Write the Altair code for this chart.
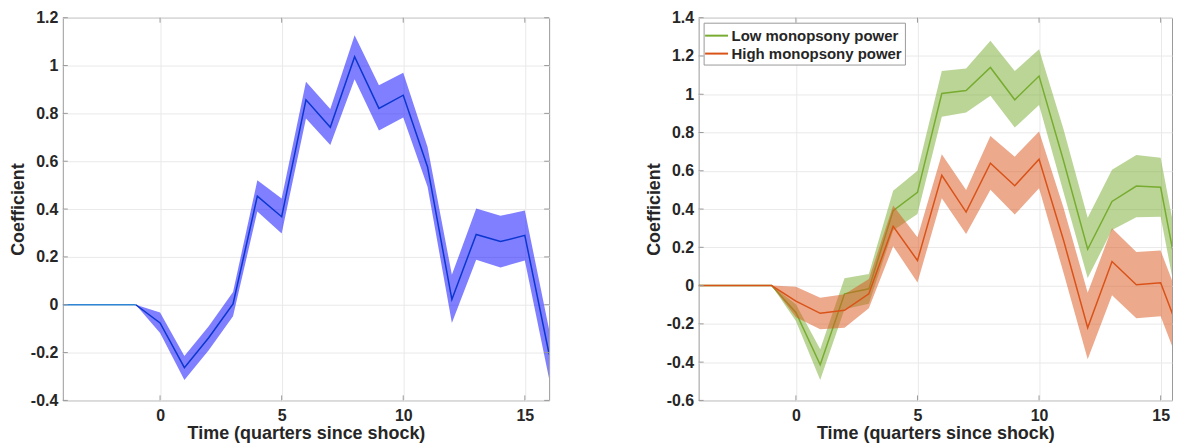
import altair as alt
import pandas as pd

# ---------------- data ----------------
quarters = list(range(-4, 17))

left_coef = [0, 0, 0, 0, -0.076, -0.263, -0.138, 0.003, 0.454, 0.368, 0.857,
             0.742, 1.037, 0.821, 0.876, 0.576, 0.022, 0.294, 0.264, 0.290, -0.207]
left_hi = [0, 0, 0, 0, -0.032, -0.214, -0.090, 0.053, 0.520, 0.444, 0.932,
           0.818, 1.127, 0.918, 0.970, 0.659, 0.125, 0.402, 0.372, 0.394, -0.105]
left_lo = [0, 0, 0, 0, -0.118, -0.315, -0.190, -0.048, 0.390, 0.298, 0.779,
           0.668, 0.943, 0.728, 0.783, 0.493, -0.076, 0.188, 0.156, 0.185, -0.310]

low_coef = [0, 0, 0, 0, -0.140, -0.414, -0.043, -0.017, 0.392, 0.487, 1.004,
            1.020, 1.140, 0.971, 1.095, 0.655, 0.190, 0.440, 0.520, 0.514, -0.150]
low_hi = [0, 0, 0, 0, -0.098, -0.333, 0.038, 0.061, 0.496, 0.600, 1.121,
          1.134, 1.279, 1.121, 1.235, 0.820, 0.355, 0.605, 0.683, 0.668, 0.000]
low_lo = [0, 0, 0, 0, -0.185, -0.494, -0.124, -0.095, 0.288, 0.374, 0.883,
          0.905, 0.992, 0.826, 0.944, 0.490, 0.040, 0.290, 0.357, 0.360, -0.300]

high_coef = [0, 0, 0, 0, -0.081, -0.145, -0.129, -0.043, 0.310, 0.131, 0.576,
             0.384, 0.640, 0.522, 0.660, 0.240, -0.220, 0.126, 0.004, 0.015, -0.320]
high_hi = [0, 0, 0, 0, -0.006, -0.063, -0.045, 0.035, 0.419, 0.253, 0.686,
           0.500, 0.782, 0.674, 0.805, 0.410, -0.037, 0.300, 0.176, 0.183, -0.150]
high_lo = [0, 0, 0, 0, -0.165, -0.228, -0.220, -0.119, 0.206, 0.016, 0.457,
           0.270, 0.501, 0.371, 0.509, 0.070, -0.385, -0.050, -0.171, -0.160, -0.490]

series_names = ["Low monopsony power", "High monopsony power"]
x_ticks = [0, 5, 10, 15]
y_ticks_left = [-0.4, -0.2, 0, 0.2, 0.4, 0.6, 0.8, 1, 1.2]
y_ticks_right = [-0.6, -0.4, -0.2, 0, 0.2, 0.4, 0.6, 0.8, 1, 1.2, 1.4]

# ---------------- styling ----------------
FONT = "Liberation Sans"
TXT = "#262626"
BOX = "#9a9a9a"
GRID = "#e9e9e9"
W1, W2, H = 488, 475, 384
TICK = 5

left_df = pd.DataFrame({"x": quarters, "coef": left_coef, "hi": left_hi, "lo": left_lo})
low_df = pd.DataFrame({"x": quarters, "coef": low_coef, "hi": low_hi, "lo": low_lo,
                       "series": series_names[0]})
high_df = pd.DataFrame({"x": quarters, "coef": high_coef, "hi": high_hi, "lo": high_lo,
                        "series": series_names[1]})
xt_df = pd.DataFrame({"x": x_ticks})
ytl_df = pd.DataFrame({"y": y_ticks_left})
ytr_df = pd.DataFrame({"y": y_ticks_right})

label_expr = "'' + round(datum.value*10)/10"

X_AXIS = alt.Axis(values=x_ticks, title="Time (quarters since shock)", grid=True,
                  gridColor=GRID, ticks=False, domain=False, labelPadding=7,
                  titlePadding=1, labelExpr=label_expr, labelOverlap=False)
Y_AXIS_L = alt.Axis(values=y_ticks_left, title="Coefficient", grid=True, gridColor=GRID,
                    ticks=False, domain=False, labelPadding=5, titlePadding=3,
                    labelExpr=label_expr, labelOverlap=False)
Y_AXIS_R = alt.Axis(values=y_ticks_right, title="Coefficient", grid=True, gridColor=GRID,
                    ticks=False, domain=False, labelPadding=5, titlePadding=3,
                    labelExpr=label_expr, labelOverlap=False)


def inward_ticks(xs, ys, yax, ydf, width, right_side=True):
    base_x = alt.Chart(xt_df).mark_rule(color=BOX, strokeWidth=1)
    base_y = alt.Chart(ydf).mark_rule(color=BOX, strokeWidth=1)
    layers = [
        base_x.encode(x=alt.X("x:Q", scale=xs, axis=X_AXIS),
                      y=alt.value(H), y2=alt.value(H - TICK)),
        base_x.encode(x=alt.X("x:Q", scale=xs, axis=X_AXIS),
                      y=alt.value(0), y2=alt.value(TICK)),
        base_y.encode(y=alt.Y("y:Q", scale=ys, axis=yax),
                      x=alt.value(0), x2=alt.value(TICK)),
    ]
    if right_side:
        layers.append(base_y.encode(y=alt.Y("y:Q", scale=ys, axis=yax),
                                    x=alt.value(width), x2=alt.value(width - TICK)))
    return layers


# ---------------- left panel ----------------
xs_l = alt.Scale(domain=[-4, 16], nice=False, zero=False)
ys_l = alt.Scale(domain=[-0.4, 1.2], nice=False, zero=False)

band_l = alt.Chart(left_df).transform_filter("datum.x >= -1").mark_area(
    color="#0000ff", opacity=0.5, clip=True).encode(
    x=alt.X("x:Q", scale=xs_l, axis=X_AXIS),
    y=alt.Y("lo:Q", scale=ys_l, axis=Y_AXIS_L),
    y2="hi:Q")
pre_l = alt.Chart(left_df).transform_filter("datum.x <= -1").mark_line(
    color="#2f86d6", strokeWidth=1.6, clip=True).encode(
    x=alt.X("x:Q", scale=xs_l, axis=X_AXIS), y=alt.Y("coef:Q", scale=ys_l, axis=Y_AXIS_L))
line_l = alt.Chart(left_df).transform_filter("datum.x >= -1").mark_line(
    color="#0b36cf", strokeWidth=1.5, clip=True).encode(
    x=alt.X("x:Q", scale=xs_l, axis=X_AXIS), y=alt.Y("coef:Q", scale=ys_l, axis=Y_AXIS_L))

left = alt.layer(band_l, pre_l, line_l,
                 *inward_ticks(xs_l, ys_l, Y_AXIS_L, ytl_df, W1)
                 ).properties(width=W1, height=H)

# ---------------- right panel ----------------
xs_r = alt.Scale(domain=[-4, -4 + W2 / 24.4], nice=False, zero=False)
ys_r = alt.Scale(domain=[-0.6, 1.4], nice=False, zero=False)
color_scale = alt.Scale(domain=series_names, range=["#77AC30", "#D95319"])
legend = alt.Legend(title=None, orient="top-left", offset=5,
                    symbolType="M-1.28,0H1.28", symbolSize=324, symbolStrokeWidth=2,
                    labelFontSize=15, labelFont=FONT, labelFontWeight="bold",
                    labelColor=TXT, fillColor="white", strokeColor=BOX, padding=3,
                    rowPadding=0, labelOffset=5, cornerRadius=0, labelLimit=400)

band_low = alt.Chart(low_df).transform_filter("datum.x >= -1").mark_area(
    color="#77AC30", opacity=0.5, clip=True).encode(
    x=alt.X("x:Q", scale=xs_r, axis=X_AXIS),
    y=alt.Y("lo:Q", scale=ys_r, axis=Y_AXIS_R),
    y2="hi:Q")
line_low = alt.Chart(low_df).mark_line(strokeWidth=1.5, clip=True).encode(
    x=alt.X("x:Q", scale=xs_r, axis=X_AXIS), y=alt.Y("coef:Q", scale=ys_r, axis=Y_AXIS_R),
    color=alt.Color("series:N", scale=color_scale, legend=legend))
band_high = alt.Chart(high_df).transform_filter("datum.x >= -1").mark_area(
    color="#D95319", opacity=0.5, clip=True).encode(
    x=alt.X("x:Q", scale=xs_r, axis=X_AXIS), y=alt.Y("lo:Q", scale=ys_r, axis=Y_AXIS_R),
    y2="hi:Q")
line_high = alt.Chart(high_df).mark_line(strokeWidth=1.5, clip=True).encode(
    x=alt.X("x:Q", scale=xs_r, axis=X_AXIS), y=alt.Y("coef:Q", scale=ys_r, axis=Y_AXIS_R),
    color=alt.Color("series:N", scale=color_scale, legend=legend))

right = alt.layer(band_low, line_low, band_high, line_high,
                  *inward_ticks(xs_r, ys_r, Y_AXIS_R, ytr_df, W2, right_side=False)
                  ).properties(width=W2, height=H)

chart = alt.hconcat(left, right, spacing=94).resolve_scale(
    x="independent", y="independent", color="independent"
).resolve_legend(
    color="independent"
).properties(
    padding={"left": 0, "top": 0, "right": 0, "bottom": 0}
).configure_view(
    stroke=BOX, strokeWidth=1
).configure_axis(
    labelFont=FONT, titleFont=FONT, labelFontSize=16, titleFontSize=18,
    labelFontWeight="bold", titleFontWeight="bold", labelColor=TXT, titleColor=TXT,
    labelOverlap=False
)

chart.save("out.html", embed_options={"renderer": "svg", "actions": False})
